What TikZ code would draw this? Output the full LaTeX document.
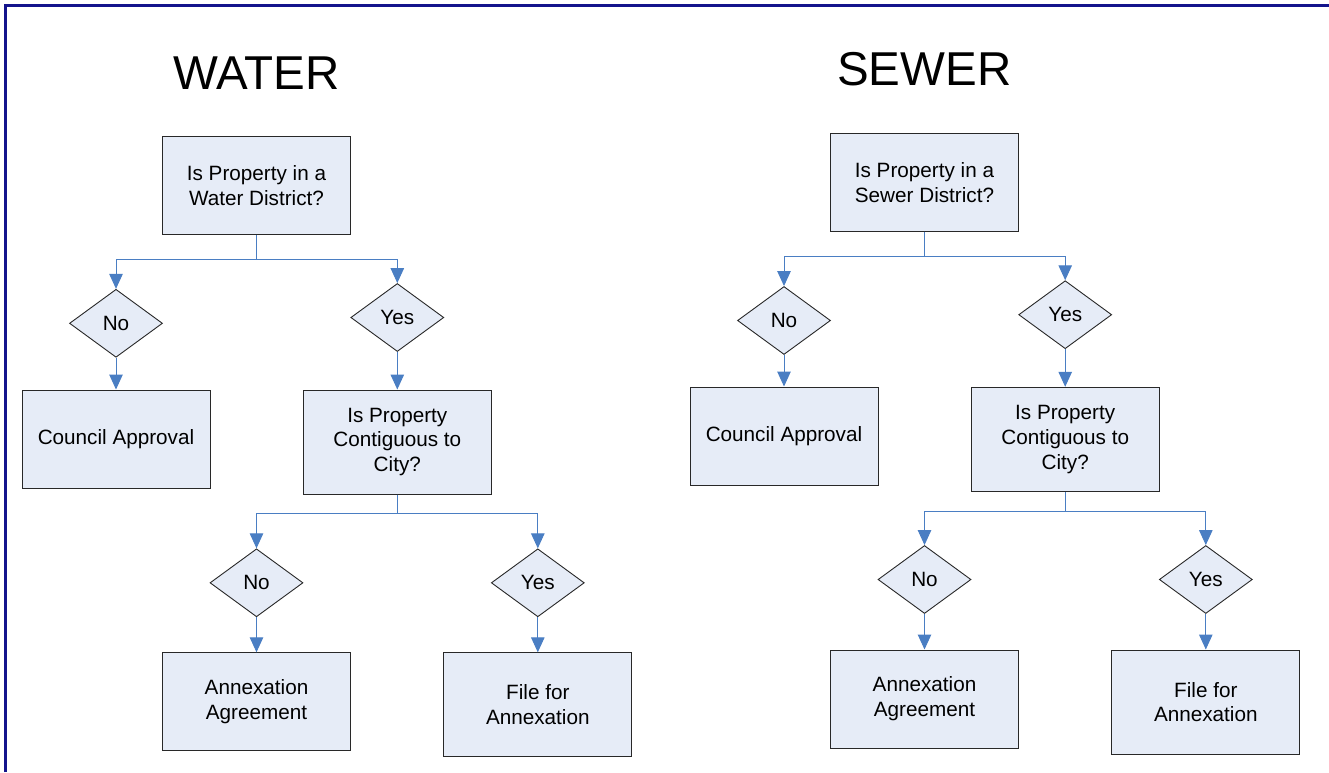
\documentclass[tikz,border=0pt]{standalone}
\usepackage{fontspec}
\setmainfont{Liberation Sans}
\usetikzlibrary{shapes.geometric,arrows.meta}
\definecolor{boxfill}{RGB}{230,236,247}
\definecolor{boxline}{RGB}{40,40,40}
\definecolor{conncol}{RGB}{74,126,195}
\definecolor{framecol}{RGB}{20,20,140}
\tikzset{
  flowbox/.style={draw=boxline, fill=boxfill, line width=1pt, minimum width=188pt, inner sep=0pt,
    align=center, font=\fontsize{20.7}{24.8}\selectfont},
  choice/.style={draw=boxline, fill=boxfill, line width=0.9pt, diamond, minimum width=93pt,
    minimum height=68pt, inner sep=0pt, font=\fontsize{20.7}{24.8}\selectfont},
  conn/.style={draw=conncol, line width=1pt, -{Triangle[length=15pt,width=13.5pt]}},
  title/.style={font=\fontsize{47.5}{57}\selectfont, inner sep=0pt}
}
\begin{document}
\begin{tikzpicture}[x=1pt,y=-1pt]
\useasboundingbox (0,0) rectangle (1329,772);
\draw[framecol, line width=2.6pt] (5.5,772) -- (5.5,5.5) -- (1329,5.5);

% WATER
\node[title] (wt) at (256.7,72.8) {WATER};
\node[flowbox, minimum height=98pt] (w1) at (256.5,185.5) {Is Property in a\\Water District?};
\node[choice] (wno) at (116,323.3) {No};
\node[choice] (wyes) at (397.3,317.5) {Yes};
\node[flowbox, minimum height=98pt] (wca) at (116,439) {Council Approval};
\node[flowbox, minimum height=104pt] (wcont) at (397.3,442) {Is Property\\Contiguous to\\City?};
\node[choice] (wno2) at (256.5,582.8) {No};
\node[choice] (wyes2) at (537.8,582.8) {Yes};
\node[flowbox, minimum height=98pt] (wagr) at (256.5,701.8) {Annexation\\Agreement};
\node[flowbox, minimum height=104pt] (wfile) at (537.8,704.8) {File for\\Annexation};

\draw[conn] (w1.south) -- ++(0,24.4) -| (wno.north);
\draw[conn] (w1.south) -- ++(0,24.4) -| (wyes.north);
\draw[conn] (wno.south) -- (wca.north);
\draw[conn] (wyes.south) -- (wcont.north);
\draw[conn] (wcont.south) -- ++(0,19.3) -| (wno2.north);
\draw[conn] (wcont.south) -- ++(0,19.3) -| (wyes2.north);
\draw[conn] (wno2.south) -- (wagr.north);
\draw[conn] (wyes2.south) -- (wfile.north);

% SEWER
\node[title] (st) at (924.3,69.5) {SEWER};
\node[flowbox, minimum height=98pt] (s1) at (924.5,182.2) {Is Property in a\\Sewer District?};
\node[choice] (sno) at (784,320.5) {No};
\node[choice] (syes) at (1065.2,314.7) {Yes};
\node[flowbox, minimum height=98pt] (sca) at (784,436) {Council Approval};
\node[flowbox, minimum height=104pt] (scont) at (1065.2,439.3) {Is Property\\Contiguous to\\City?};
\node[choice] (sno2) at (924.5,579.5) {No};
\node[choice] (syes2) at (1205.8,579.5) {Yes};
\node[flowbox, minimum height=98pt] (sagr) at (924.5,699) {Annexation\\Agreement};
\node[flowbox, minimum height=104pt] (sfile) at (1205.8,702) {File for\\Annexation};

\draw[conn] (s1.south) -- ++(0,24.3) -| (sno.north);
\draw[conn] (s1.south) -- ++(0,24.3) -| (syes.north);
\draw[conn] (sno.south) -- (sca.north);
\draw[conn] (syes.south) -- (scont.north);
\draw[conn] (scont.south) -- ++(0,19.3) -| (sno2.north);
\draw[conn] (scont.south) -- ++(0,19.3) -| (syes2.north);
\draw[conn] (sno2.south) -- (sagr.north);
\draw[conn] (syes2.south) -- (sfile.north);
\end{tikzpicture}
\end{document}
